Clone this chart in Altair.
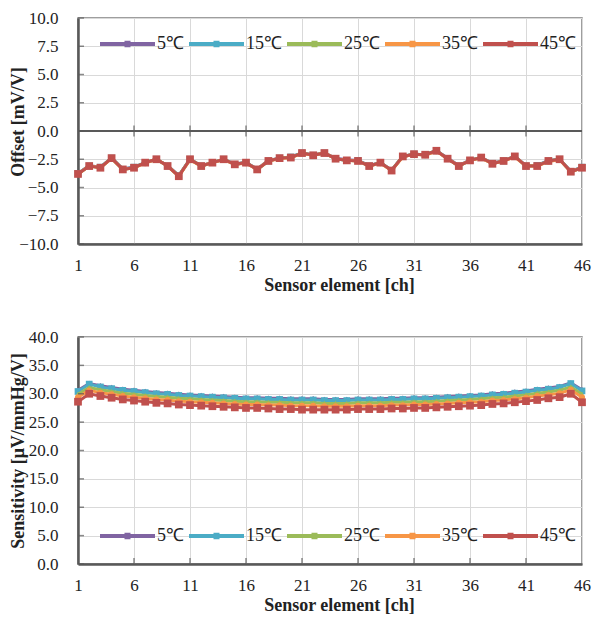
import altair as alt
import pandas as pd

FONT = "Liberation Serif"

channels = list(range(1, 47))
series_names = ["5℃", "15℃", "25℃", "35℃", "45℃"]
series_colors = ["#8064A2", "#4BACC6", "#9BBB59", "#F79646", "#C0504D"]
series_shapes = ["diamond", "square", "triangle-up", "circle", "square"]
series_sizes = [30, 45, 35, 35, 60]

x_tick_values = [1, 6, 11, 16, 21, 26, 31, 36, 41, 46]
offset_tick_values = [-10, -7.5, -5, -2.5, 0, 2.5, 5, 7.5, 10]
sens_tick_values = [0, 5, 10, 15, 20, 25, 30, 35, 40]

# Offset [mV/V]
offset_5C = [-3.75, -3.05, -3.2, -2.4, -3.35, -3.2, -2.8, -2.5, -3.05, -3.95, -2.5, -3.05, -2.8, -2.5, -2.9,
             -2.8, -3.35, -2.6, -2.4, -2.3, -1.95, -2.1, -1.95, -2.4, -2.55, -2.6, -3.05, -2.8, -3.45, -2.25,
             -2.05, -2.1, -1.75, -2.4, -3.05, -2.55, -2.35, -2.85, -2.6, -2.25, -3.05, -3.05, -2.6, -2.5, -3.55, -3.2]
offset_15C = [-3.75, -3.1, -3.2, -2.4, -3.4, -3.2, -2.8, -2.5, -3.1, -3.95, -2.5, -3.1, -2.8, -2.5, -2.95,
              -2.8, -3.4, -2.65, -2.4, -2.3, -1.95, -2.15, -1.95, -2.45, -2.6, -2.6, -3.1, -2.8, -3.5, -2.25,
              -2.05, -2.1, -1.75, -2.45, -3.1, -2.6, -2.35, -2.9, -2.65, -2.25, -3.1, -3.05, -2.65, -2.5, -3.6, -3.2]
offset_25C = [-3.8, -3.1, -3.25, -2.4, -3.4, -3.25, -2.8, -2.5, -3.1, -4.0, -2.5, -3.1, -2.8, -2.5, -2.95,
              -2.8, -3.4, -2.65, -2.4, -2.35, -1.95, -2.15, -1.95, -2.45, -2.6, -2.65, -3.1, -2.8, -3.5, -2.25,
              -2.05, -2.1, -1.75, -2.45, -3.1, -2.6, -2.35, -2.9, -2.65, -2.25, -3.1, -3.1, -2.65, -2.5, -3.6, -3.25]
offset_35C = [-3.8, -3.1, -3.25, -2.45, -3.4, -3.25, -2.85, -2.5, -3.1, -4.0, -2.55, -3.1, -2.8, -2.55, -2.95,
              -2.85, -3.4, -2.65, -2.45, -2.35, -2.0, -2.15, -1.95, -2.45, -2.6, -2.65, -3.1, -2.85, -3.5, -2.3,
              -2.05, -2.15, -1.8, -2.45, -3.1, -2.6, -2.4, -2.9, -2.65, -2.3, -3.1, -3.1, -2.7, -2.55, -3.6, -3.25]
offset_45C = [-3.8, -3.1, -3.25, -2.4, -3.4, -3.25, -2.8, -2.5, -3.1, -4.0, -2.5, -3.1, -2.8, -2.5, -2.95,
              -2.8, -3.4, -2.65, -2.4, -2.35, -1.95, -2.15, -1.95, -2.45, -2.6, -2.65, -3.1, -2.8, -3.5, -2.25,
              -2.05, -2.1, -1.75, -2.45, -3.1, -2.6, -2.35, -2.9, -2.65, -2.25, -3.1, -3.1, -2.65, -2.5, -3.6, -3.25]

# Sensitivity [uV/mmHg/V]
sens_5C = [30.6, 31.8, 31.4, 31.1, 30.8, 30.6, 30.4, 30.2, 30.1, 29.9, 29.8, 29.7, 29.6, 29.5, 29.4,
           29.3, 29.3, 29.2, 29.2, 29.1, 29.1, 29.1, 29.0, 29.0, 29.0, 29.1, 29.1, 29.1, 29.2, 29.2,
           29.3, 29.3, 29.4, 29.5, 29.6, 29.7, 29.8, 30.0, 30.1, 30.3, 30.5, 30.8, 31.0, 31.3, 31.9, 30.7]
sens_15C = [30.4, 31.7, 31.2, 30.9, 30.6, 30.4, 30.2, 30.0, 29.9, 29.7, 29.6, 29.5, 29.4, 29.3, 29.2,
            29.1, 29.1, 29.0, 29.0, 28.9, 28.9, 28.9, 28.8, 28.8, 28.8, 28.9, 28.9, 28.9, 29.0, 29.0,
            29.1, 29.1, 29.2, 29.3, 29.4, 29.5, 29.6, 29.8, 29.9, 30.1, 30.3, 30.6, 30.8, 31.1, 31.8, 30.5]
sens_25C = [29.9, 31.1, 30.7, 30.4, 30.1, 29.9, 29.7, 29.5, 29.4, 29.2, 29.1, 29.0, 28.9, 28.8, 28.7,
            28.6, 28.6, 28.5, 28.5, 28.4, 28.4, 28.4, 28.3, 28.3, 28.3, 28.4, 28.4, 28.4, 28.5, 28.5,
            28.6, 28.6, 28.7, 28.8, 28.9, 29.0, 29.1, 29.3, 29.4, 29.6, 29.8, 30.1, 30.3, 30.6, 31.2, 29.9]
sens_35C = [29.4, 30.6, 30.2, 29.9, 29.6, 29.4, 29.2, 29.0, 28.9, 28.7, 28.6, 28.5, 28.4, 28.3, 28.2,
            28.1, 28.1, 28.0, 28.0, 27.9, 27.9, 27.9, 27.8, 27.8, 27.8, 27.9, 27.9, 27.9, 28.0, 28.0,
            28.1, 28.1, 28.2, 28.3, 28.4, 28.5, 28.6, 28.8, 28.9, 29.1, 29.3, 29.6, 29.8, 30.1, 30.7, 29.4]
sens_45C = [28.6, 30.0, 29.6, 29.3, 29.0, 28.8, 28.6, 28.4, 28.3, 28.1, 28.0, 27.9, 27.8, 27.7, 27.6,
            27.5, 27.5, 27.4, 27.3, 27.3, 27.2, 27.2, 27.2, 27.2, 27.2, 27.3, 27.3, 27.3, 27.4, 27.4,
            27.5, 27.5, 27.6, 27.7, 27.8, 27.9, 28.0, 28.2, 28.3, 28.5, 28.7, 28.9, 29.2, 29.4, 30.0, 28.5]


def make_df(lists):
    rows = []
    for name, vals in zip(series_names, lists):
        for ch, v in zip(channels, vals):
            rows.append({"ch": ch, "series": name, "value": v})
    return pd.DataFrame(rows)


offset_df = make_df([offset_5C, offset_15C, offset_25C, offset_35C, offset_45C])
sens_df = make_df([sens_5C, sens_15C, sens_25C, sens_35C, sens_45C])

LEGEND_PATH = "M-1,-0.2H4.5V0.2H-1Z M1.45,-0.32H2.05V0.32H1.45Z"
DARK = "#595959"
W = 504


def panel(df, ydom, yvals, ytitle, legend_y, height, zero_line, ytitle_y):
    color_scale = alt.Scale(domain=series_names, range=series_colors)
    x_scale = alt.Scale(domain=[1, 46], nice=False, zero=False)
    y_scale = alt.Scale(domain=ydom, nice=False, zero=False)
    xenc = alt.X("ch:Q", scale=x_scale,
                 axis=alt.Axis(values=x_tick_values, format="d", title="Sensor element [ch]",
                               labelPadding=13, titlePadding=3, labelFlush=False,
                               titleX=261, titleAlign="center"))
    yaxis_kw = dict(values=yvals, format=".1f", title=ytitle, labelPadding=20,
                    titleX=-60, titleBaseline="middle")
    if ytitle_y is not None:
        yaxis_kw["titleY"] = ytitle_y
    yenc = alt.Y("value:Q", scale=y_scale, axis=alt.Axis(**yaxis_kw))
    legend = alt.Legend(orient="none", legendX=22, legendY=legend_y, direction="horizontal",
                        title=None, symbolType=LEGEND_PATH, symbolSize=400, symbolStrokeWidth=0,
                        labelOffset=37, columnPadding=5, labelFont=FONT, labelFontSize=18,
                        labelColor="#222")
    layers = []
    for i, (name, shape, size) in enumerate(zip(series_names, series_shapes, series_sizes)):
        base = alt.Chart(df).transform_filter(alt.datum.series == name).encode(
            x=xenc, y=yenc,
            color=alt.Color("series:N", scale=color_scale, legend=legend if i == 0 else None),
        )
        layers.append(base.mark_line(strokeWidth=3))
        layers.append(base.mark_point(filled=True, shape=shape, size=size, opacity=1))

    ytick_df = pd.DataFrame({"value": yvals, "ch": [1] * len(yvals)})
    ytick = alt.Chart(ytick_df).mark_tick(orient="horizontal", size=6, thickness=1.5,
                                          color=DARK, xOffset=3).encode(x=xenc, y=yenc)
    inner = x_tick_values[1:-1]
    xtick_df = pd.DataFrame({"ch": inner, "value": [0] * len(inner)})
    if zero_line:
        rule = alt.Chart(pd.DataFrame({"value": [0]})).mark_rule(color=DARK, strokeWidth=2).encode(
            y=yenc)
        xtick = alt.Chart(xtick_df).mark_tick(orient="vertical", size=11, thickness=1.5,
                                              color=DARK).encode(x=xenc, y=yenc)
        extra = [rule, xtick, ytick]
    else:
        xtick = alt.Chart(xtick_df).mark_tick(orient="vertical", size=6, thickness=1.5,
                                              color=DARK, yOffset=-3).encode(x=xenc, y=yenc)
        extra = [xtick, ytick]
    return alt.layer(*(layers + extra)).properties(width=W, height=height)


top = panel(offset_df, [-10, 10], offset_tick_values, "Offset [mV/V]", 16, 226, True, 103.5)
bottom = panel(sens_df, [0, 40], sens_tick_values, "Sensitivity [μV/mmHg/V]", 189, 227, False, None)

chart = alt.vconcat(top, bottom, spacing=32).resolve_scale(
    color="independent").resolve_legend(color="independent").properties(
    padding={"left": 0, "top": 0, "right": 0, "bottom": 0}, background="white"
).configure_axis(
    labelFont=FONT, labelFontSize=17, labelColor="#222",
    titleFont=FONT, titleFontSize=18, titleFontWeight="bold", titleColor="#222",
    gridColor="#d9d9d9", gridWidth=1, domainColor=DARK, domainWidth=2.5,
    ticks=False, tickSize=0,
).configure_view(stroke="#7f7f7f", strokeWidth=1.5)

chart.save("out.html", embed_options={"renderer": "svg", "actions": False})
